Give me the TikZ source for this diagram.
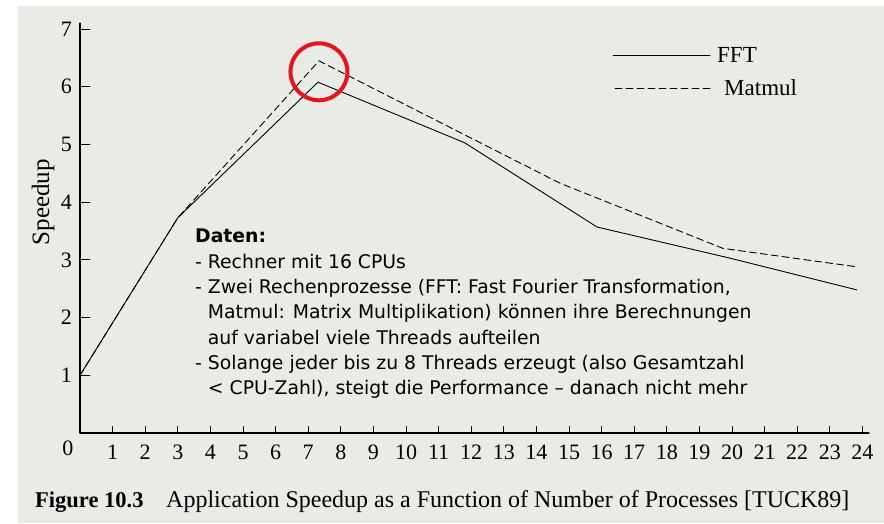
\documentclass[tikz,border=0pt]{standalone}
\usepackage{fontspec}
\setmainfont{Liberation Serif}
\newfontfamily\datenfont{DejaVu Sans}
\definecolor{papier}{RGB}{233,236,230}
\definecolor{kreisrot}{RGB}{228,22,28}
\begin{document}
\begin{tikzpicture}[x=1pt,y=-1pt,line join=round,line cap=round,
	achse/.style={line width=1.6pt},
	kurve/.style={line width=0.9pt},
	gestrichelt/.style={kurve,dash pattern=on 7pt off 4pt},
	zahl/.style={font=\fontsize{22}{22}\selectfont,inner sep=0pt}]
	\useasboundingbox (0,0) rectangle (884,523);
	\fill[white] (0,0) rectangle (884,523);
	\fill[papier] (18,6) rectangle (884,523);
	%% Diagramm in Datenkoordinaten
	\begin{scope}[shift={(80,433)},x=32.6pt,y=57.7pt]
		\def\xmax{24.2}
		\def\ymax{7.1}
		\draw[achse] (0,\ymax)--(0,0)--(\xmax,0);
		\foreach \i in {1,...,7}{
			\draw[line width=1pt] (0,\i)--(0.3,\i);
			\node[zahl] (y\i) at (-0.42,\i) {\i};}
		\foreach \i in {1,...,24}{
			\draw[line width=1pt] (\i,0)--(\i,0.11);
			\node[zahl] (x\i) at (\i,-0.34) {\i};}
		\node[zahl] (x0) at (-0.37,-0.27) {0};
		\node[rotate=90,font=\fontsize{25}{25}\selectfont] (speedup) at (-1.13,4) {Speedup};
		%% FFT
		\draw[kurve] (0,1)--(3,3.73)--(7.3,6.08)--(11.8,5.03)--(15.86,3.57)--(19.94,3.03)--(23.83,2.48);
		%% Matmul
		\draw[gestrichelt] (0,1)--(3,3.73)--(7.33,6.45)--(14.72,4.33)--(19.72,3.2)--(23.83,2.88);
		\draw[kreisrot,line width=4pt] (7.33,6.26) circle[radius=28.5pt];
	\end{scope}
	%% Legende
	\draw[kurve] (613,55)--(710,55);
	\node[anchor=west,inner sep=0pt,font=\fontsize{23}{23}\selectfont] (fft) at (717,55) {FFT};
	\draw[gestrichelt] (615,88)--(712,88);
	\node[anchor=west,inner sep=0pt,font=\fontsize{23}{23}\selectfont] (matmul) at (724,88) {Matmul};
	%% Text
	\node[anchor=north west,align=left,inner sep=0pt,
	font=\datenfont\fontsize{18.8}{25.3}\selectfont] (daten) at (195,229) {\textbf{Daten:}\\
		- Rechner mit 16 CPUs\\
		- Zwei Rechenprozesse (FFT: Fast Fourier Transformation,\\
		\phantom{- }Matmul: Matrix Multiplikation) können ihre Berechnungen\\
		\phantom{- }auf variabel viele Threads aufteilen\\
		- Solange jeder bis zu 8 Threads erzeugt (also Gesamtzahl\\
		\phantom{- }< CPU-Zahl), steigt die Performance – danach nicht mehr};
	%% Bildunterschrift
	\node[anchor=base west,inner sep=0pt,font=\bfseries\fontsize{22.5}{22.5}\selectfont] (figur) at (35,507) {Figure 10.3};
	\node[anchor=base west,inner sep=0pt,font=\fontsize{24}{24}\selectfont] (unterschrift) at (166,507) {Application Speedup as a Function of Number of Processes [TUCK89]};
\end{tikzpicture}
\end{document}
